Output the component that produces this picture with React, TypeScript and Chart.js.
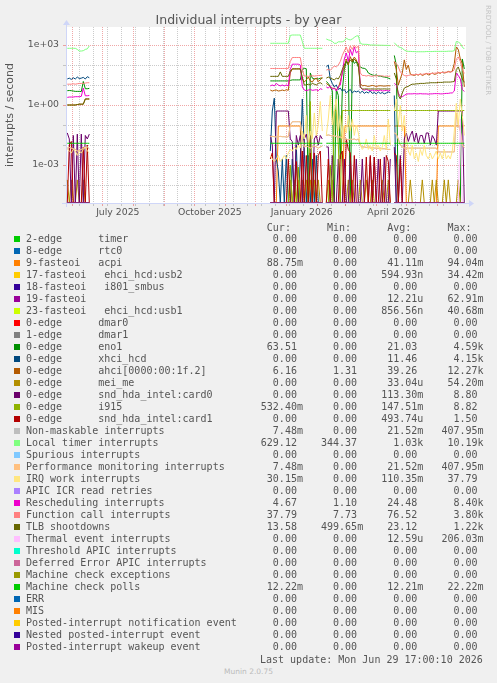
import React, { useEffect, useRef } from 'react';
import { Chart, registerables } from 'chart.js';

Chart.register(...registerables);

// ---------- axes ----------
// x = days since 1 July 2025 (00:00); y = interrupts / second (log)
const X_MIN = -36.3;
const X_MAX = 363.7;
const Y_MIN = Math.pow(10, -4.9);
const Y_MAX = Math.pow(10, 3.9);

const monthStartDays = [-30, 0, 31, 62, 92, 123, 153, 184, 215, 243, 274, 304, 335];
const biweeklyDays = [-23, -9, 5, 19, 33, 47, 61, 75, 89, 103, 117, 131, 145, 159, 173, 187, 201, 215, 229, 243, 257, 271, 285, 299, 313, 327, 341, 355];
const xLabelDays = [15.5, 107.5, 199.5, 289];
const xLabels = ['July 2025', 'October 2025', 'January 2026', 'April 2026'];
const yLabelValues = [1e-3, 1, 1e3];
const yLabels = ['1e-03', '1e+00', '1e+03'];
const minorDecades = [1e-4, 1e-2, 1e-1, 10, 100];

// ---------- sample days (null entries in the series mark the data gaps) ----------
const days = [
  -35, -33, -31, -29, -27, -25, -23, -21, -19, -17, -15, -13,
  0,
  168, 170, 172, 174, 176, 178, 180, 182, 184, 186, 188, 190, 192, 194, 196, 198, 200, 202, 204, 206, 208, 210, 212, 214, 216, 218, 220,
  222,
  224, 226, 228, 230, 232, 234, 236, 238, 240, 242, 244, 246, 248, 250, 252, 254, 256, 258, 260, 262, 264, 266, 268, 270, 272, 274, 276, 278, 280, 282, 284, 286, 288,
  290,
  292, 294, 296, 298, 300, 302, 304, 306, 308, 310, 312, 314, 316, 318, 320, 322, 324, 326, 328, 330, 332, 334, 336, 338, 340, 342, 344, 346, 348, 350, 352, 354, 356, 358, 360, 362,
];

// ---------- series values ----------
const zeroValues = [
  0,0,0,0,0,0,0,0,0,0,0,0,
  null,
  0,0,0,0,0,0,0,0,0,0, 0,0,0,0,0,0,0,0,0,0, 0,0,0,0,0,0,0,
  null,
  0,0,0,0,0,0,0,0,0,0, 0,0,0,0,0,0,0,0,0,0, 0,0,0,0,0,0,0,0,0,0, 0,0,0,
  null,
  0,0,0,0,0,0,0,0,0,0, 0,0,0,0,0,0,0,0,0,0, 0,0,0,0,0,0,0,0,0,0, 0,0,0,0,0,0,
];

const acpiValues = [
  0,0,0,0,0,0,0,0,0,0,0,0,
  null,
  0,0,0,0, 0.089,0.089,0.089,0.089,0.089,0.089,0.089,0.089,0.089,0.089,0.089,0.089, 0,0,0,0,0,0,0,0,0,0,0,
  null,
  0,0,0,0,0,0,0,0,0, 0.089,0.089,0.089,0.089,0.089,0.089,0.089,0.089,0.089,0.089,0.089,0.089, 0.089,0.089,0.089,0.089,0.089,0.089,0.089,0.089,0.089,0.089,0.089,0.089,
  null,
  0.089,0.089,0.089,0.089,0.089,0.089, 0,0,0,0,0,0,0,0,0,0,0,0,0,0,0,0, 0.089,0.089,0.089,0.089,0.089,0.089,0.089,0.089,0.089,0.089,0.089,0.089,0.089,0.089,
];

const eno1Values = [
  5.2,5.3,5.2,5,4.8,4.8,4.8,4.7,15,6.5,6.5,6.8,
  null,
  16,16,16,16,16,16,16,16,16,16,17,18,18,18,18,18,60,68,65,0,40,22,20,21,20,22,21,
  null,
  15,12,8,5,0,6,3,0.002,5,60,150,100,0,200,120,150,80,80,70,68,60,40,35,32,30,32,28,28,26,25,24,22,20,
  null,
  300,100, 0,0,0,0,0,0,0,0,0,0,0,0,0,0,0,0,0,0,0,0,0,0,0,0,0,0,0,0,0,0,0,0, 200,63.5,
];

const xhciValues = [
  20,22,19,23,20,25,21,22,24,20,26,23,
  null,
  0.005,0.5,2.2,0.002,0.0005,0,0.002,0,0.003,0,0,0.002,0,0.01,0,0.002,2,0.005,0,0.003,0,0.002,0,0.003,0,0,0,
  null,
  80,100,20,12,8,10,6,7,5,6,4,5,6,4,5,4.5,5,4,5,3.8,4.5,4,5,3.8,4.2,3.6,4.5,3.8,4.2,3.6,4,4.5,4.2,
  null,
  3, 0,0,0,0,0,0,0,0,0,0,0,0,0,0,0,0,0,0,0,0,0,0,0,0,0,0,0,0,0,0,0,0,0,0,0,
];

const ahciValues = [
  1,1,1,1,1,1.05,1.1,1.1,1.1,2,2,2,
  null,
  5.6,5,5.4,5.6,5,5.2,5.6,5.2,5.8,5.4,40,65,65,65,65,65,20,14,18,25,16,14,20,22,15,18,25,
  null,
  12,10,8,7,6.8,6,7,15,40,80,200,100,260,150,250,180,100,12,9,9.5,9,8.5,9,9.5,9,8.5,9,9.2,9,8.8,9,9.2,9,
  null,
  150,60,10,20,40,180,60,100,35,32,30,34,31,36,30,33,38,32,35,40,34,36,42,38,45,40,42,48,44,50,120,800,600,200,120,8,
];

const meiMeValues = [
  1.8e-4,0,1.8e-4,0,0,1.8e-4,0,0,1.8e-4,0,0,0,
  null,
  0,0,0,0,0,0,0,0,0,0, 1.8e-4,0,1.8e-4,0,1.8e-4,0,1.8e-4,0,1.8e-4,0,1.8e-4,0,1.8e-4,0,1.8e-4,0,0,
  null,
  0,1.8e-4,0,1.8e-4,0,0,0,0,0,0,0,1.8e-4,0,1.8e-4,0,0,0,1.8e-4,0,0,1.8e-4,0,0,1.8e-4,0,0,0,0,1.8e-4,0,0,1.8e-4,0,
  null,
  0,0,0,0,0,0,0,0,1.8e-4,0,0,0,0,0,1.8e-4,0,0,0,0,1.8e-4,0,1.8e-4,0,0,0,1.8e-4,0,1.8e-4,0,0,0,0,1.8e-4,0,0,0,
];

const card0Values = [
  0.04,0.02,0,0.03,0,0.035,0,0.035,0,0.03,0.02,0.035,
  null,
  0.03,0.01,0,0.5,0.5,0.5,0.5,0.5,0.5,0.5,0.02,0.015,0,0.03,0.01,0.03,0,0.02,0.035,0.01,0.03,0,0.02,0.03,0.01,0.03,0.02,
  null,
  0.008,0.008,0,0.003,0,0,0.002,0,0,0.002,0,0,0.003,0,0,0.002,0,0,0.002,0,0,0,0.0025,0,0.0025,0,0.002,0,0,0.0025,0,0,0.002,
  null,
  0.008,0,0,0.003,0,0.02,0.04,0.015,0.03,0.05,0.015,0.04,0.012,0.03,0.03,0.012,0.04,0.04,0.01,0.03,0.02,0.01,
  0.5,0.5,0.5,0.5,0.5,0.5,0.5,0.5,0.5,0.5,0.5,0.5,0.5, 0,
];

const i915Values = [
  0,0,0,0,0,0,0,0,0,0,0,0,
  null,
  0,0,0,0,0,0,0,0,0,0, 0.001,0,0,0,0.0008,0,0,0,0,0, 1.5,0,0,0,0,0,0,
  null,
  0,0,0.001,0,0.5,0.56,0.01,0,0.53, 0.53,0.53,0.53,0.53,0.53,0.53,0.53,0.53,0.53,0.53,0.53,0.53, 0.53,0.53,0.53,0.53,0.53,0.53,0.53,0.53,0.53,0.53,0.53,0.53,
  null,
  0.53,0.53,0.53,0.53,0.53,0.53,0.53,0.53,0.53,0.53,0.53,0.53, 0.53,0.53,0.53,0.53,0.53,0.53,0.53,0.53,0.53,0.53,0.53,0.53, 0.53,0.53,0.53,0.53,0.53,0.53,0.53,0.53,0.53,0.53,0.53,0.53,
];

const card1Values = [
  0,0.01,0.015,0,0,0,0,0,0.008,0,0.01,0,
  null,
  0.002,0.004,0,0,0,0,0,0,0,0.002,0,0,0,0.0015,0,0,0.005,0,0.003,0,0.004,0,0.004,0,0.003,0.005,0,
  null,
  0,0.002,0,0,0,0,0,0.003,0.005,0,0.02,0.006,0.004,0,0.003,0,0,0,0,0,0.0025,0,0.003,0,0.0025,0,0,0.002,0,0,0.003,0.0015,0,
  null,
  0.004,0.003,0,0.002, 0,0,0,0,0,0,0,0,0,0,0,0,0,0,0,0,0,0,0,0,0,0,0,0,0,0,0,0,0,0,0,0,
];

const perfValues = [
  0.007,0.0075,0.007,0.0065,0.006,0.005,0.0055,0.006,0.007,0.0075,0.008,0.0065,
  null,
  0.026,0.027,0.026,0.025,0.026,0.027,0.026,0.026,0.025,0.026,0.1,0.146,0.146,0.146,0.146,0.146,0.02,0.008,0.009,0.008,0.007,0.008,0.009,0.008,0.007,0.008,0.009,
  null,
  0.03,0.032,0.03,0.028,0.03,0.026,0.025,0.025,0.022,0.02,0.02,0.018,0.02,0.019,0.02,0.018,0.02,0.01,0.008,0.008,0.0075,0.008,0.007,0.0075,0.007,0.007,0.0068,0.007,0.0065,0.0065,0.0062,0.006,0.006,
  null,
  0.04,0.035,0.02,0.01,0.008, 0.007,0.007,0.007,0.007,0.007,0.007,0.007,0.007,0.007,0.007,0.007,0.007,0.007,0.007,0.007,0.007,0.007,
  0.0045,0.0045,0.0045,0.0045,0.0045,0.0045,0.0045,0.0045,0.0045, 0.4,0.1,0.05,0.01,0.0075,
];
// Non-maskable interrupts report the same figures as performance monitoring
const nmiValues = perfValues;

const localTimerValues = [
  684,684,684,684,684,600,500,500,520,600,640,900,
  null,
  1216,1216,1216,1216,1216,1216,1216,1216,1216,1216,3000,3162,3162,3162,3162,3162,1500,684,684,684,684,684,684,684,684,684,684,
  null,
  1995,1800,1700,1500,1216,1216,1445,1445,1445,1600,2200,1900,1800,2000,2400,2800,2900,1216,1100,1080,1080,1050,1000,1000,1000,980,980,970,970,960,960,950,950,
  null,
  1300,1000,820,750,680,560,500,480,480,470,470,460,460,460,460,460,470,470,470,470,480,480,480,480,480,480,480,490,490,490,520,1500,1400,1200,800,630,
];

const irqWorkValues = [
  0.006,0.005,0.004,0.006,0.005,0.003,0.005,0.004,0.006,0.008,0.005,0.004,
  null,
  0.003,0.002,0.0015,0.002,0.003,0.0015,0.002,0.003,0.002,0.004,0.006,0.005,0.008,0.006,0.01,0.007,0.05,0.02,0.3,0.01,0.05,0.02,0.4,0.03,0.1,1.5,0.05,
  null,
  0.03,0.2,3,0.1,0.5,2,0.05,0.3,0.02,0.1,0.04,0.3,0.05,0.2,0.03,0.1,0.04,0.01,0.006,0.008,0.02,0.006,0.01,0.005,0.03,0.007,0.01,0.005,0.008,0.03,0.006,0.2,0.01,
  null,
  0.5,2,0.1,1,0.05,0.3,0.02,0.005,0.003,0.01,0.002,0.004,0.0015,0.006,0.003,0.01,0.003,0.002,0.004,0.002,0.003,0.005,0.002,0.004,0.002,0.006,0.002,0.003,0.002,0.005,0.05,1.2,0.1,2,0.3,0.03,
];

const reschedValues = [
  2.4,2.5,2.5,2.5,2.6,2.6,2.6,2.7,7,2.9,2.9,3,
  null,
  9,10,9,12,10,9,10,9,10,9,60,110,110,110,110,100,8,5.6,5.2,5.6,6,5.4,5.6,5.8,5.2,6.5,6,
  null,
  8,7,9,6,7,5,8,10,40,200,400,150,600,300,800,400,500,8,6,5.5,6,5.5,5.2,5.6,5,5.4,5.2,5.6,5,5.2,5.4,5,5.5,
  null,
  12,10,4,2.6,2.6,3,3.5,3.6,3.6,3.6,3.7,3.6,3.6,3.7,3.6,3.6,3.6,3.5,3.6,3.6,3.7,3.7,3.7,3.6,3.6,3.7,3.8,3.8,4,4,5,40,30,20,6,4.7,
];

const funcCallValues = [
  11,11,11,11.5,11,11.5,12,12,12,12.5,13,13,
  null,
  67,67,67,67,67,67,67,67,67,67,150,237,237,237,237,237,60,28,28,27,28,29,28,29,30,30,31,
  null,
  56,60,55,70,90,80,100,150,300,500,800,400,900,600,1000,700,900,40,30,30,28,30,28,27,29,28,30,28,29,27,28,27,28,
  null,
  150,120,80,45,35,30,28,30,32,32,33,34,33,35,34,36,36,38,37,38,39,40,40,42,42,43,44,45,45,46,60,200,250,150,60,38,
];

const tlbValues = [
  1,1,1,1,1,1.05,1.1,1.1,1.1,2,2,2,
  null,
  27,27,27,27,27,45,27,27,27,27,50,63,63,63,63,63,25,10,10,11,10,12,11,10,12,13,11,
  null,
  22,25,22,20,18,22,20,30,60,100,150,120,180,140,200,150,120,8,6.3,6.3,6.4,6.3,6.3,6.4,6.3,6.3,6.4,6.3,6.3,6.4,6.3,6.3,6.4,
  null,
  40,20,3,2,4,7,8,8.5,10,11,11,11.5,11.5,12,12,12,12.5,12.5,13,13,13,13,13.5,13.5,13.5,14,14,14,14,14.5,15,60,80,40,20,13.6,
];

const thermalValues = [
  0,0,0,0,0,0,0,0,0,0,0,0,
  null,
  0,0,0,0,0,0,0,0,0,0, 0,0,0,0,0,0,0,0,0,0, 0,0,0,0,0,0,0,
  null,
  0,0,0,0,0,0,0,0,0,0, 0,0,0,0,0,0,0,0,0,0, 0,0,0,0,0,0,0,0,0,0, 0,0,0,
  null,
  0,0,0,0,0,0,0,0,0,0, 0,0,0,0,0,0,0,0,0,0, 0,0,0,0,0,0,0,0,0,0, 0,0,0,0.2,0,0,
];

const mcpValues = [
  0.0122,0.0122,0.0122,0.0122,0.0122,0.0122,0.0122,0.0122,0.0122,0.0122,0.0122,0.0122,
  null,
  0.0122,0.0122,0.0122,0.0122,0.0122,0.0122,0.0122,0.0122,0.0122,0.0122,0.0122,0.0122,0.0122,0.0122,0.0122,0.0122,0.0122,0.0122,0.0122,0.0122,0.0122,0.0122,0.0122,0.0122,0.0122,0.0122,0.0122,
  null,
  0.0122,0.0122,0.0122,0.0122,0.0122,0.0122,0.0122,0.0122,0.0122,0.0122,0.0122,0.0122,0.0122,0.0122,0.0122,0.0122,0.0122,0.0122,0.0122,0.0122,0.0122,0.0122,0.0122,0.0122,0.0122,0.0122,0.0122,0.0122,0.0122,0.0122,0.0122,0.0122,0.0122,
  null,
  0.0122,0.0122,0.0122,0.0122,0.0122,0.0122,0.0122,0.0122,0.0122,0.0122,0.0122,0.0122,0.0122,0.0122,0.0122,0.0122,0.0122,0.0122,0.0122,0.0122,0.0122,0.0122,0.0122,0.0122,0.0122,0.0122,0.0122,0.0122,0.0122,0.0122,0.0122,0.0122,0.0122,0.0122,0.0122,0.0122,
];

// ---------- legend ----------
const seriesLabels = [
  '2-edge      timer', '8-edge      rtc0', '9-fasteoi   acpi', '17-fasteoi   ehci_hcd:usb2',
  '18-fasteoi   i801_smbus', '19-fasteoi', '23-fasteoi   ehci_hcd:usb1', '0-edge      dmar0',
  '1-edge      dmar1', '0-edge      eno1', '0-edge      xhci_hcd', '0-edge      ahci[0000:00:1f.2]',
  '0-edge      mei_me', '0-edge      snd_hda_intel:card0', '0-edge      i915', '0-edge      snd_hda_intel:card1',
  'Non-maskable interrupts', 'Local timer interrupts', 'Spurious interrupts', 'Performance monitoring interrupts',
  'IRQ work interrupts', 'APIC ICR read retries', 'Rescheduling interrupts', 'Function call interrupts',
  'TLB shootdowns', 'Thermal event interrupts', 'Threshold APIC interrupts', 'Deferred Error APIC interrupts',
  'Machine check exceptions', 'Machine check polls', 'ERR', 'MIS',
  'Posted-interrupt notification event', 'Nested posted-interrupt event', 'Posted-interrupt wakeup event',
];
const seriesColors = [
  '#00CC00', '#0066B3', '#FF8000', '#FFCC00', '#330099', '#990099', '#CCFF00', '#FF0000',
  '#808080', '#008F00', '#00487D', '#B35A00', '#B38F00', '#6B006B', '#8FB300', '#B30000',
  '#BEBEBE', '#80FF80', '#80C9FF', '#FFC080', '#FFE680', '#AA80FF', '#EE00CC', '#FF8080',
  '#666600', '#FFBFFF', '#00FFCC', '#CC6699', '#999900', '#00CC00', '#0066B3', '#FF8000',
  '#FFCC00', '#330099', '#990099',
];
const seriesValues = [
  zeroValues, zeroValues, acpiValues, zeroValues, zeroValues, zeroValues, zeroValues, zeroValues,
  zeroValues, eno1Values, xhciValues, ahciValues, meiMeValues, card0Values, i915Values, card1Values,
  nmiValues, localTimerValues, zeroValues, perfValues, irqWorkValues, zeroValues, reschedValues, funcCallValues,
  tlbValues, thermalValues, zeroValues, zeroValues, zeroValues, mcpValues, zeroValues, zeroValues,
  zeroValues, zeroValues, zeroValues,
];
const curValues = ['0.00','0.00','88.75m','0.00','0.00','0.00','0.00','0.00','0.00','63.51','0.00','6.16','0.00','0.00','532.40m','0.00','7.48m','629.12','0.00','7.48m','30.15m','0.00','4.67','37.79','13.58','0.00','0.00','0.00','0.00','12.22m','0.00','0.00','0.00','0.00','0.00'];
const minValues = ['0.00','0.00','0.00','0.00','0.00','0.00','0.00','0.00','0.00','0.00','0.00','1.31','0.00','0.00','0.00','0.00','0.00','344.37','0.00','0.00','0.00','0.00','1.10','7.73','499.65m','0.00','0.00','0.00','0.00','0.00','0.00','0.00','0.00','0.00','0.00'];
const avgValues = ['0.00','0.00','41.11m','594.93n','0.00','12.21u','856.56n','0.00','0.00','21.03','11.46','39.26','33.04u','113.30m','147.51m','493.74u','21.52m','1.03k','0.00','21.52m','110.35m','0.00','24.48','76.52','23.12','12.59u','0.00','0.00','0.00','12.21m','0.00','0.00','0.00','0.00','0.00'];
const maxValues = ['0.00','0.00','94.04m','34.42m','0.00','62.91m','40.68m','0.00','0.00','4.59k','4.15k','12.27k','54.20m','8.80','8.82','1.50','407.95m','10.19k','0.00','407.95m','37.79','0.00','8.40k','3.80k','1.22k','206.03m','0.00','0.00','0.00','22.22m','0.00','0.00','0.00','0.00','0.00'];

// ---------- styles ----------
const BG = '#F0F0F0';
const TEXT = '#555555';
const AXIS = '#CFD6F8';
const GRID_MINOR = 'rgba(140,140,140,0.45)';
const GRID_MAJOR = 'rgba(225,80,80,0.5)';
const SANS = '"DejaVu Sans", sans-serif';
const MONO = '"DejaVu Sans Mono", monospace';

function fmtField(s: string): string {
  const last = s.slice(-1);
  const hasSuffix = /[a-zA-Z]/.test(last);
  const num = hasSuffix ? s.slice(0, -1) : s;
  return num.padStart(6) + (hasSuffix ? last : ' ');
}

const rrdPlugin = {
  id: 'rrdGrid',
  beforeDatasetsDraw(chart: any) {
    const { ctx, chartArea: a, scales } = chart;
    const xs = scales.x;
    const ys = scales.y;
    ctx.save();
    ctx.fillStyle = '#FFFFFF';
    ctx.fillRect(a.left, a.top, a.right - a.left, a.bottom - a.top);
    ctx.lineWidth = 1;
    const vline = (d: number, color: string) => {
      const px = Math.round(xs.getPixelForValue(d)) + 0.5;
      if (px < a.left || px > a.right) return;
      ctx.strokeStyle = color;
      ctx.setLineDash([1, 1]);
      ctx.beginPath(); ctx.moveTo(px, a.top); ctx.lineTo(px, a.bottom); ctx.stroke();
      ctx.setLineDash([]);
      ctx.beginPath(); ctx.moveTo(px, a.bottom); ctx.lineTo(px, a.bottom + 3); ctx.stroke();
    };
    const hline = (v: number, color: string) => {
      const py = Math.round(ys.getPixelForValue(v)) + 0.5;
      if (py < a.top || py > a.bottom) return;
      ctx.strokeStyle = color;
      ctx.setLineDash([1, 1]);
      ctx.beginPath(); ctx.moveTo(a.left, py); ctx.lineTo(a.right, py); ctx.stroke();
      ctx.setLineDash([]);
      ctx.beginPath(); ctx.moveTo(a.left - 3, py); ctx.lineTo(a.left, py); ctx.stroke();
    };
    biweeklyDays.forEach((d) => vline(d, GRID_MINOR));
    monthStartDays.forEach((d) => vline(d, GRID_MAJOR));
    minorDecades.forEach((v) => hline(v, GRID_MINOR));
    yLabelValues.forEach((v) => hline(v, GRID_MAJOR));

    // axes with arrows
    ctx.setLineDash([]);
    ctx.strokeStyle = AXIS;
    ctx.fillStyle = AXIS;
    const by = Math.round(a.bottom) + 0.5;
    const lx = Math.round(a.left) + 0.5;
    ctx.beginPath(); ctx.moveTo(a.left - 4, by); ctx.lineTo(a.right + 4, by); ctx.stroke();
    ctx.beginPath(); ctx.moveTo(a.right + 3, by - 3.5); ctx.lineTo(a.right + 8, by); ctx.lineTo(a.right + 3, by + 3.5); ctx.closePath(); ctx.fill();
    ctx.beginPath(); ctx.moveTo(lx, a.bottom + 4); ctx.lineTo(lx, a.top - 3); ctx.stroke();
    ctx.beginPath(); ctx.moveTo(lx - 3.5, a.top - 2); ctx.lineTo(lx, a.top - 7); ctx.lineTo(lx + 3.5, a.top - 2); ctx.closePath(); ctx.fill();
    ctx.restore();
  },
};

function ChartCanvas() {
  const ref = useRef<HTMLCanvasElement | null>(null);
  useEffect(() => {
    if (!ref.current) return;
    const n = seriesLabels.length;
    const datasets = seriesLabels.map((label, i) => ({
      label,
      data: days.map((d, k) => {
        const v = seriesValues[i][k];
        return { x: d, y: v === null ? null : v === 0 ? Y_MIN : v };
      }),
      borderColor: seriesColors[i],
      backgroundColor: seriesColors[i],
      borderWidth: 1,
      pointRadius: 0,
      tension: 0,
      fill: false,
      spanGaps: false,
      order: -i,
    }));
    const chart = new Chart(ref.current, {
      type: 'line',
      data: { datasets },
      plugins: [rrdPlugin],
      options: {
        animation: false,
        responsive: false,
        devicePixelRatio: 1,
        events: [],
        layout: { padding: { top: 27, right: 31, left: 0, bottom: 0 } },
        plugins: { legend: { display: false }, tooltip: { enabled: false }, title: { display: false } },
        scales: {
          x: {
            type: 'linear',
            min: X_MIN,
            max: X_MAX,
            bounds: 'data',
            grid: { display: false, drawTicks: false },
            border: { display: false },
            ticks: {
              autoSkip: false,
              maxRotation: 0,
              minRotation: 0,
              padding: 4,
              color: TEXT,
              font: { family: SANS, size: 9.3 },
              callback: (_v: any, i: number) => xLabels[i] ?? '',
            },
            afterBuildTicks: (s: any) => { s.ticks = xLabelDays.map((v) => ({ value: v })); },
            afterFit: (s: any) => { s.height = 22; },
          },
          y: {
            type: 'logarithmic',
            min: Y_MIN,
            max: Y_MAX,
            bounds: 'data',
            grid: { display: false, drawTicks: false },
            border: { display: false },
            ticks: {
              autoSkip: false,
              padding: 7,
              color: TEXT,
              font: { family: SANS, size: 9.3 },
              callback: (_v: any, i: number) => yLabels[i] ?? '',
            },
            afterBuildTicks: (s: any) => { s.ticks = yLabelValues.map((v) => ({ value: v })); },
            afterFit: (s: any) => { s.width = 66; },
            title: {
              display: true,
              text: 'interrupts / second',
              color: TEXT,
              font: { family: SANS, size: 11 },
              padding: { top: 4, bottom: 0 },
            },
          },
        },
      } as any,
    } as any);
    return () => chart.destroy();
  }, []);
  return <canvas ref={ref} width={497} height={225} style={{ position: 'absolute', left: 0, top: 0, width: 497, height: 225 }} />;
}

export default function App() {
  const rowTop0 = 233.3;
  const header = ' '.repeat(40) + 'Cur:' + ' '.repeat(6) + 'Min:' + ' '.repeat(6) + 'Avg:' + ' '.repeat(6) + 'Max:';
  return (
    <div style={{ position: 'absolute', left: 0, top: 0, width: 497, height: 683, background: BG, overflow: 'hidden' }}>
      <ChartCanvas />
      <div style={{ position: 'absolute', left: 0, top: 12, width: 497, textAlign: 'center', font: `12.5px ${SANS}`, lineHeight: '15px', color: TEXT, whiteSpace: 'nowrap' }}>
        Individual interrupts - by year
      </div>
      <div style={{ position: 'absolute', left: 483, top: 5, writingMode: 'vertical-rl', font: `7px ${SANS}`, lineHeight: '10px', color: '#C4C4C4', whiteSpace: 'nowrap' }}>
        RRDTOOL / TOBI OETIKER
      </div>
      <div style={{ position: 'absolute', left: 26, top: 222.3, font: `10px ${MONO}`, lineHeight: '12px', color: TEXT, whiteSpace: 'pre' }}>{header}</div>
      {seriesLabels.map((label, i) => {
        const top = rowTop0 + 12 * i;
        const text = label.padEnd(39) + fmtField(curValues[i]) + '   ' + fmtField(minValues[i]) + '   ' + fmtField(avgValues[i]) + '   ' + fmtField(maxValues[i]);
        return (
          <React.Fragment key={i}>
            <div style={{ position: 'absolute', left: 14, top: top + 3, width: 6, height: 6, background: seriesColors[i] }} />
            <div style={{ position: 'absolute', left: 26, top, font: `10px ${MONO}`, lineHeight: '12px', color: TEXT, whiteSpace: 'pre' }}>{text}</div>
          </React.Fragment>
        );
      })}
      <div style={{ position: 'absolute', left: 260, top: 653.7, font: `10px ${MONO}`, lineHeight: '12px', color: TEXT, whiteSpace: 'pre' }}>
        Last update: Mon Jun 29 17:00:10 2026
      </div>
      <div style={{ position: 'absolute', left: 0, top: 666, width: 497, textAlign: 'center', font: `7.5px ${SANS}`, lineHeight: '11px', color: '#BBBBBB', whiteSpace: 'nowrap' }}>
        Munin 2.0.75
      </div>
    </div>
  );
}
